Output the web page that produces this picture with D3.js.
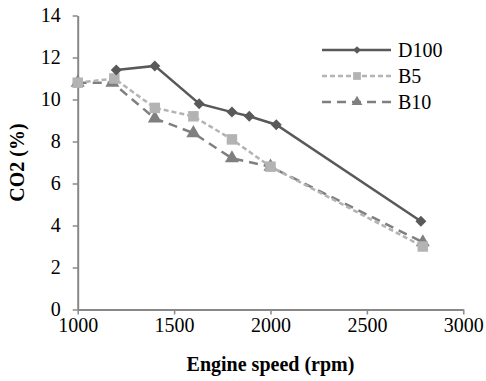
<!DOCTYPE html>
<html><head><meta charset="utf-8">
<script src="https://cdn.jsdelivr.net/npm/d3@7"></script>
<style>body{margin:0;background:#fff}svg{display:block}svg text{font-family:"Liberation Serif","Times New Roman",Times,serif !important;fill:#000}</style>
</head><body>
<script>
const seriesNames = ["D100", "B5", "B10"];
const d100X = [1200, 1400, 1630, 1800, 1890, 2030, 2780];
const d100Y = [11.4, 11.6, 9.8, 9.4, 9.2, 8.8, 4.2];
const b5X = [1000, 1190, 1400, 1600, 1800, 2000, 2790];
const b5Y = [10.8, 11.0, 9.6, 9.2, 8.1, 6.8, 3.0];
const b10X = [1000, 1180, 1400, 1600, 1800, 2000, 2790];
const b10Y = [10.8, 10.8, 9.1, 8.4, 7.2, 6.8, 3.2];
const xTicks = [1000, 1500, 2000, 2500, 3000];
const yTicks = [0, 2, 4, 6, 8, 10, 12, 14];

const W = 486, H = 381;
const FONT = '"Liberation Serif","Times New Roman",Times,serif';
const svg = d3.select("body").append("svg").attr("width", W).attr("height", H);
const x = d3.scaleLinear().domain([1000, 3000]).range([77.7, 463.3]);
const y = d3.scaleLinear().domain([0, 14]).range([309.5, 15.5]);
const axisCol = "#888888";

const gx = svg.append("g").attr("transform", `translate(0,${y(0)})`)
  .call(d3.axisBottom(x).tickValues(xTicks).tickFormat(d3.format("d")).tickSize(5).tickSizeOuter(0).tickPadding(3));
const gy = svg.append("g").attr("transform", `translate(${x(1000)},0)`)
  .call(d3.axisLeft(y).tickValues(yTicks).tickFormat(d3.format("d")).tickSize(5).tickSizeOuter(0).tickPadding(12));
[gx, gy].forEach(g => {
  g.attr("font-family", FONT).attr("font-size", 20);
  g.select(".domain").attr("stroke", axisCol).attr("stroke-width", 2);
  g.selectAll(".tick line").attr("stroke", axisCol).attr("stroke-width", 1.5);
  g.selectAll(".tick text").style("font-family", FONT).style("font-size", "20px").attr("fill", "#000");
});
gx.selectAll(".tick text").attr("dy", "0.71em").attr("y", 8);

svg.append("text").attr("x", 270.5).attr("y", 371).attr("text-anchor", "middle")
  .style("font-family", FONT).style("font-size", "20px").attr("font-weight", "bold").text("Engine speed (rpm)");
svg.append("text").attr("transform", "translate(24,162.5) rotate(-90)").attr("text-anchor", "middle")
  .style("font-family", FONT).style("font-size", "20px").attr("font-weight", "bold").text("CO2 (%)");

const styles = [
  {xs: d100X, ys: d100Y, color: "#595959", dash: null, shape: d3.symbolSquare, rot: 45, size: 60, lsize: 30},
  {xs: b5X, ys: b5Y, color: "#b3b3b3", dash: "5,3", shape: d3.symbolSquare, rot: 0, size: 110, lsize: 60},
  {xs: b10X, ys: b10Y, color: "#7f7f7f", dash: "9,6", shape: d3.symbolTriangle, rot: 0, size: 85, lsize: 50}
];
const line = d3.line().x(d => x(d[0])).y(d => y(d[1]));

[2, 1, 0].forEach(i => {
  const s = styles[i];
  const pts = s.xs.map((v, j) => [v, s.ys[j]]);
  svg.append("path").attr("d", line(pts)).attr("fill", "none").attr("stroke", s.color)
    .attr("stroke-width", 2.5).attr("stroke-dasharray", s.dash);
  svg.append("g").selectAll("path").data(pts).join("path")
    .attr("transform", d => `translate(${x(d[0])},${y(d[1])}) rotate(${s.rot})`)
    .attr("d", d3.symbol().type(s.shape).size(s.size)).attr("fill", s.color);
});

const legY = [50, 76, 102];
seriesNames.forEach((n, i) => {
  const s = styles[i];
  const g = svg.append("g");
  g.append("line").attr("x1", 322).attr("x2", 391).attr("y1", legY[i]).attr("y2", legY[i])
    .attr("stroke", s.color).attr("stroke-width", 2.5).attr("stroke-dasharray", s.dash);
  g.append("path").attr("transform", `translate(357,${legY[i]}) rotate(${s.rot})`)
    .attr("d", d3.symbol().type(s.shape).size(s.lsize)).attr("fill", s.color);
  g.append("text").attr("x", 398).attr("y", legY[i] + 7).style("font-family", FONT).style("font-size", "20px").text(n);
});
</script>
</body></html>
